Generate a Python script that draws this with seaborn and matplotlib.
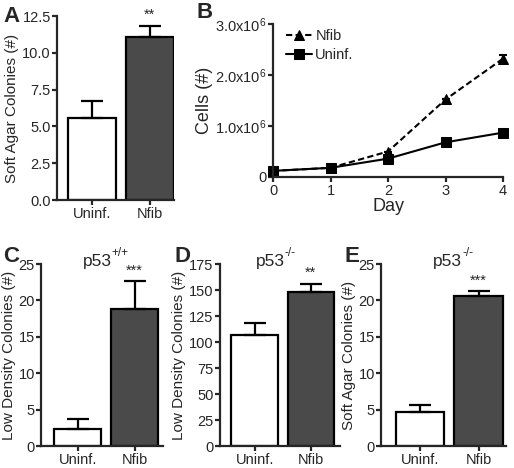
import numpy as np
import pandas as pd
import matplotlib
matplotlib.use("Agg")
import matplotlib.pyplot as plt
import seaborn as sns

# data
groups = ["Uninf.", "Nfib"]

softagar_mean = [5.6, 11.05]
softagar_err = [1.15, 0.8]

days = [0, 1, 2, 3, 4]
cells_nfib = [1.2e5, 1.8e5, 5.0e5, 1.52e6, 2.32e6]
cells_uninf = [1.2e5, 1.8e5, 3.6e5, 6.8e5, 8.7e5]
cells_nfib_err = [0, 0, 0, 0, 0.08e6]

ld_wt_mean = [2.4, 18.8]
ld_wt_err = [1.3, 3.8]

ld_null_mean = [107, 148]
ld_null_err = [11, 8]

sa_null_mean = [4.7, 20.6]
sa_null_err = [1.0, 0.7]

sns.set_style("ticks")
plt.rcParams["font.family"] = ["Liberation Sans", "DejaVu Sans"]
plt.rcParams["mathtext.fontset"] = "custom"
plt.rcParams["mathtext.rm"] = "Liberation Sans"
plt.rcParams["mathtext.default"] = "regular"
plt.rcParams["axes.linewidth"] = 1.6
plt.rcParams["xtick.major.width"] = 1.6
plt.rcParams["ytick.major.width"] = 1.6
plt.rcParams["xtick.major.size"] = 3.5
plt.rcParams["ytick.major.size"] = 3.5
plt.rcParams["xtick.labelsize"] = 10.5
plt.rcParams["ytick.labelsize"] = 10.5

W, H = 514, 468
fig = plt.figure(figsize=(W / 100, H / 100), dpi=100)


def box(l, t, r, b):
    return [l / W, 1 - b / H, (r - l) / W, (b - t) / H]


def bar_panel(rect, means, errs, ymax, ystep, ylabel, stars, title=None, title_x=0.58,
              fmt="{:.0f}", xlim=(-0.62, 1.42)):
    ax = fig.add_axes(rect)
    df = pd.DataFrame({"group": groups, "value": means})
    sns.barplot(data=df, x="group", y="value", hue="group", palette=["white", "#4a4a4a"],
                edgecolor="black", linewidth=1.6, width=0.83, legend=False, ax=ax)
    ax.errorbar([0, 1], means, yerr=[[0, 0], errs], fmt="none", ecolor="black",
                elinewidth=1.6, capsize=8, capthick=1.6)
    ax.set_ylim(0, ymax)
    ax.set_xlim(*xlim)
    ticks = np.arange(0, ymax + ystep / 2, ystep)
    ax.set_yticks(ticks)
    ax.set_yticklabels([fmt.format(t) for t in ticks])
    ax.set_xlabel("")
    ax.set_ylabel(ylabel, fontsize=11, labelpad=2)
    ax.tick_params(axis="x", pad=1.5)
    ax.tick_params(axis="y", pad=1)
    ax.text(1, means[1] + errs[1] + ymax * 0.02, stars, ha="center", va="bottom", fontsize=10.5)
    if title:
        t = ax.text(title_x, 0.975, "p53", transform=ax.transAxes, ha="right", va="bottom",
                    fontsize=12.5)
        ax.annotate(title, xy=(1.0, 0.62), xycoords=t, ha="left", va="bottom", fontsize=8.5)
    sns.despine(ax=ax)
    return ax


# A
bar_panel(box(57, 16, 174, 200), softagar_mean, softagar_err, 12.5, 2.5,
          "Soft Agar Colonies (#)", "**", fmt="{:.1f}", xlim=(-0.6, 1.42))
fig.text(3 / W, 1 - 16 / H, "A", fontsize=16, fontweight="bold", va="center")

# B
axb = fig.add_axes(box(273, 24, 503, 177))
line_df = pd.DataFrame({
    "day": days + days,
    "cells": cells_nfib + cells_uninf,
    "group": ["Nfib"] * len(days) + ["Uninf."] * len(days),
})
sns.lineplot(data=line_df, x="day", y="cells", style="group", markers={"Nfib": "^", "Uninf.": "s"},
             dashes={"Nfib": (3, 1.6), "Uninf.": ""}, color="black", linewidth=1.5,
             markersize=7, markeredgecolor="black", ax=axb, clip_on=False)
axb.errorbar(days, cells_nfib, yerr=cells_nfib_err, fmt="none", ecolor="black",
             elinewidth=1.5, capsize=3, capthick=1.5, clip_on=False)
axb.set_xlim(0, 4)
axb.set_ylim(0, 3e6)
axb.set_xticks(days)
axb.set_yticks([0, 1e6, 2e6, 3e6])
axb.set_yticklabels(["0", r"1.0x10$^6$", r"2.0x10$^6$", r"3.0x10$^6$"])
axb.set_xlabel("Day", fontsize=13, labelpad=0)
axb.set_ylabel("Cells (#)", fontsize=13, labelpad=2)
axb.tick_params(axis="y", pad=1)
axb.tick_params(axis="x", pad=1.5)
axb.legend(loc="upper left", bbox_to_anchor=(0.0, 1.05), frameon=False, fontsize=10.5,
           handlelength=1.8, handletextpad=0.2, labelspacing=0.3, title=None)
sns.despine(ax=axb)
fig.text(196 / W, 1 - 12 / H, "B", fontsize=16, fontweight="bold", va="center")

# C
bar_panel(box(41, 264, 163, 446), ld_wt_mean, ld_wt_err, 25, 5,
          "Low Density Colonies (#)", "***", title="+/+", title_x=0.58, xlim=(-0.65, 1.5))
fig.text(3 / W, 1 - 257 / H, "C", fontsize=16, fontweight="bold", va="center")

# D
bar_panel(box(220, 264, 340, 446), ld_null_mean, ld_null_err, 175, 25,
          "Low Density Colonies (#)", "**", title="-/-", title_x=0.54, xlim=(-0.62, 1.52))
fig.text(175 / W, 1 - 257 / H, "D", fontsize=16, fontweight="bold", va="center")

# E
bar_panel(box(381, 264, 506, 446), sa_null_mean, sa_null_err, 25, 5,
          "Soft Agar Colonies (#)", "***", title="-/-", title_x=0.65, xlim=(-0.67, 1.47))
fig.text(345 / W, 1 - 257 / H, "E", fontsize=16, fontweight="bold", va="center")

fig.savefig("out.png", dpi=100)
